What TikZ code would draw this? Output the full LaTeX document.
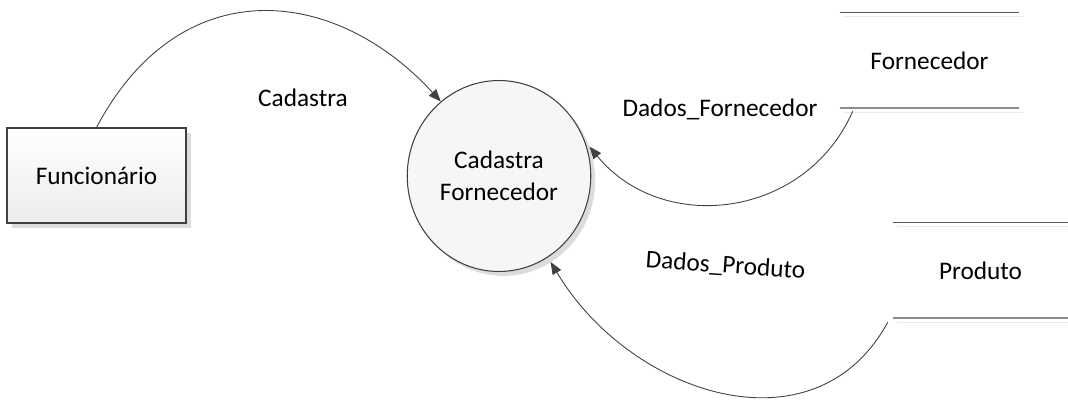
\documentclass[tikz,border=0pt]{standalone}
\usepackage{fontspec}
\setmainfont{Carlito}
\usepackage{tikz}
\usetikzlibrary{shapes.geometric, arrows.meta, shadows}
\definecolor{linegray}{HTML}{404040}
\definecolor{boxgray}{HTML}{ECECEC}
\definecolor{shadowgray}{HTML}{DCDCDC}
\tikzstyle{arrow} = [linegray, line width=0.5pt, -{Triangle[length=7pt,width=5.5pt]}]
\tikzstyle{entity} = [rectangle, minimum width=3.58cm, minimum height=1.9cm, text centered, draw=linegray, line width=0.6pt, top color=white, bottom color=boxgray, drop shadow={shadow xshift=3pt, shadow yshift=-3pt, fill=shadowgray, opacity=1}]
\tikzstyle{process} = [ellipse, minimum width=3.56cm, minimum height=3.82cm, align=center, draw=linegray, line width=0.6pt, fill=gray!7, drop shadow={shadow xshift=2.5pt, shadow yshift=-2.5pt, fill=shadowgray, opacity=1}]
\tikzstyle{store} = [rectangle, minimum width=3.58cm, minimum height=1.9cm, text centered]
\tikzstyle{storetop} = [draw=black!65, line width=0.9pt]
\tikzstyle{storebottom} = [draw=black!45, line width=1.1pt]
\tikzstyle{storeshadow} = [draw=black!8, line width=0.9pt]
\tikzstyle{flowlabel} = [anchor=base, inner sep=0pt]

\begin{document}
\begin{tikzpicture}[x=0.02cm, y=-0.02cm, font=\fontsize{14.4}{18.2}\selectfont, text=black]
\useasboundingbox (0,0) rectangle (1068,401);

\node(fu)[entity] at (96.5,175.5) {Funcionário};
\node(cf)[process] at (499,176) {Cadastra\\Fornecedor};
\node(fo)[store] at (929.5,60.5) {Fornecedor};
\node(pr)[store, minimum width=3.5cm] at (980.5,270.5) {Produto};

% depositos de dados
\foreach \s in {fo,pr} {
  \draw [storeshadow] ([shift={(4,4)}]\s.north west) -- ([shift={(4,4)}]\s.north east);
  \draw [storeshadow] ([shift={(4,4)}]\s.south west) -- ([shift={(4,4)}]\s.south east);
  \draw [storetop] (\s.north west) -- (\s.north east);
  \draw [storebottom] (\s.south west) -- (\s.south east);
}

\coordinate [shift={(13,3)}] (fb) at (fo.south west);
\coordinate [shift={(-5,4)}] (pb) at (pr.south west);

\draw [arrow] (fu.north) .. controls (180,-30) and (334,-15) .. (cf.128);
\draw [arrow, shorten >=4pt] (fb) .. controls (806,218) and (663,236) .. (cf.22);
\draw [arrow, shorten >=3pt] (pb) .. controls (815,456) and (630,395) .. (cf.-59);

\node(l1)[flowlabel] at (303,107) {Cadastra};
\node(l2)[flowlabel] at (720,117) {Dados\_Fornecedor};
\node(l3)[flowlabel, rotate=-4] at (725,273) {Dados\_Produto};

\end{tikzpicture}
\end{document}
